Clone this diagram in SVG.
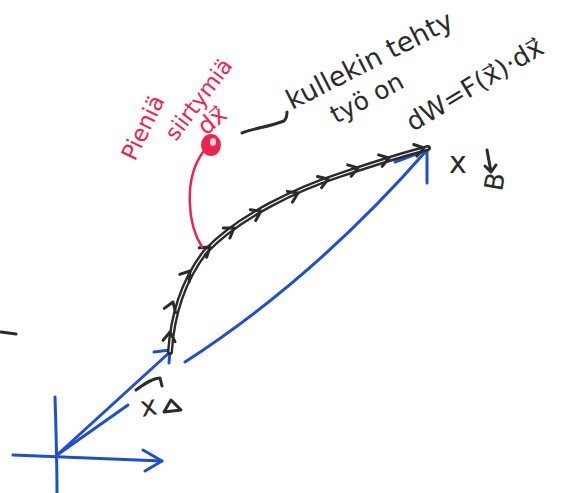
<svg xmlns="http://www.w3.org/2000/svg" width="581" height="493" viewBox="0 0 581 493">
<style>
.blue{stroke:#1f4fd0;stroke-width:3;fill:none;stroke-linecap:round;stroke-linejoin:round}
.blk{stroke:#2b2b2b;stroke-width:3;fill:none;stroke-linecap:round;stroke-linejoin:round}
.red{stroke:#ee2450;stroke-width:2.5;fill:none;stroke-linecap:round}
.hb{font-family:"DejaVu Sans","Liberation Sans",sans-serif;fill:#2b2b2b}
.hr{font-family:"DejaVu Sans","Liberation Sans",sans-serif;fill:#ee2450}
</style>
<defs>
<path id="chev" d="M-9,-6 L0,0 L-9,6" stroke="#2b2b2b" stroke-width="3" fill="none" stroke-linecap="round" stroke-linejoin="round"/>
</defs>
<rect width="581" height="493" fill="#fff"/>
<g id="connectors">
<path class="blue" d="M55,397 C56,430 57,460 57,493"/>
<path class="blue" d="M13,455 L162,461"/>
<path class="blue" d="M143,450 L162,461 L145,471"/>
<path class="blue" d="M57,455 L170,352"/>
<path class="blue" d="M57,455 L128,405"/>
<path class="blue" d="M154,352 L170,350 L169,363"/>
<path class="blue" d="M185,362 Q315,278 427,150"/>
<path class="blue" d="M395,162 L427,150 L427,183"/>
<path d="M170,352 C172,320 180,285 205,252 C240,215 300,188 340,175 C370,165 400,155 428,148" stroke="#2b2b2b" stroke-width="6" fill="none" stroke-linecap="round"/>
<path d="M170,352 C172,320 180,285 205,252 C240,215 300,188 340,175 C370,165 400,155 428,148" stroke="#fff" stroke-width="1.2" fill="none"/>
<use href="#chev" transform="translate(170,332) rotate(-84)"/>
<use href="#chev" transform="translate(173,302) rotate(-70)"/>
<use href="#chev" transform="translate(190,271) rotate(-52)"/>
<use href="#chev" transform="translate(210,247) rotate(-38)"/>
<use href="#chev" transform="translate(234,228) rotate(-34)"/>
<use href="#chev" transform="translate(261,211) rotate(-27)"/>
<use href="#chev" transform="translate(298,193) rotate(-25)"/>
<use href="#chev" transform="translate(328,179) rotate(-20)"/>
<use href="#chev" transform="translate(358,168) rotate(-17)"/>
<use href="#chev" transform="translate(389,158) rotate(-17)"/>
<use href="#chev" transform="translate(424,148) rotate(-15)"/>
<path class="red" d="M202,247 C188,225 183,180 203,152"/>
<ellipse cx="211" cy="145" rx="9" ry="10" fill="#ee2450" stroke="#ee2450" stroke-width="2"/>
<ellipse cx="213" cy="142" rx="3" ry="4" fill="#fff" opacity="0.8"/>
<path class="blk" d="M242,133 C255,128 268,127 284,121 C287,118 287,115 287,112"/>
<path class="blk" d="M1,332 L16,334"/>
</g>
<g id="label-red">
<text class="hr" font-size="23" transform="translate(135,162) rotate(-64)">Pieniä</text>
<text class="hr" font-size="22" transform="translate(176,142) rotate(-53)">siirtymiä</text>
<text class="hr" font-size="24" transform="translate(206,136) rotate(-40)">dx⃗</text>
</g>
<g id="label-text">
<text class="hb" font-size="27" transform="translate(292,110) rotate(-27)">kullekin tehty</text>
<text class="hb" font-size="25" transform="translate(336,124) rotate(-28)">työ  on</text>
<text class="hb" font-size="26" transform="translate(413,132) rotate(-31)">dW=F(x⃗)·dx⃗</text>
</g>
<g id="label-xB">
<text class="hb" font-size="30" x="449" y="173">x</text>
<text class="hb" font-size="26" transform="translate(502,192) rotate(-80)">B</text>
<path class="blk" stroke-width="2.5" d="M487,150 L491,172 M485,166 L491,172 L496,165"/>
</g>
<g id="label-xA">
<text class="hb" font-size="28" transform="translate(142,417) rotate(-10)">x</text>
<path class="blk" d="M164,412 L171,400 L181,410 Z" stroke-width="2.5"/>
<path class="blk" stroke-width="2.5" d="M136,390 C145,383 155,378 160,378 L162,386"/>
</g>
</svg>
